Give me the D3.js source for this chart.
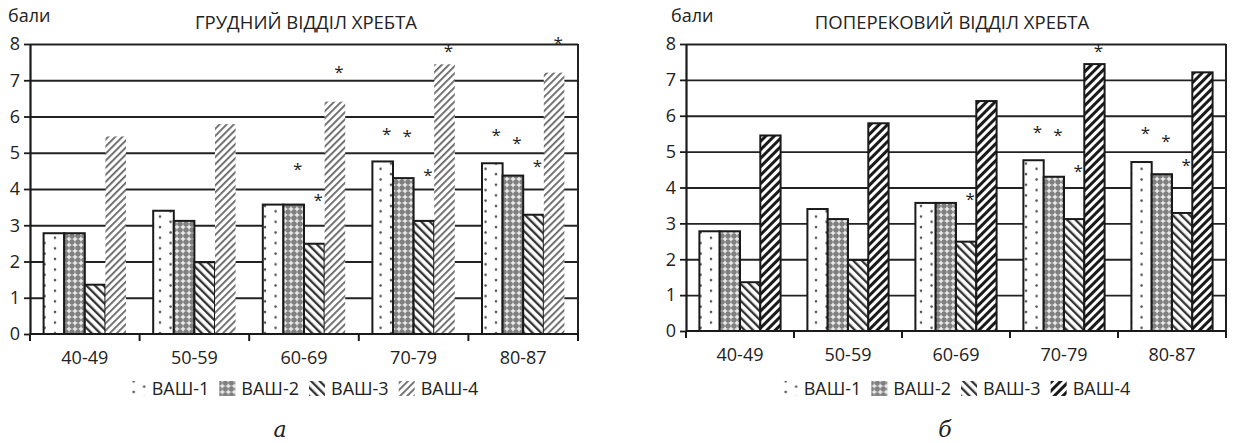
<!DOCTYPE html>
<html>
<head>
<meta charset="utf-8">
<script src="https://cdn.jsdelivr.net/npm/d3@7"></script>
<style>
  body { margin: 0; background: #fff; }
  svg text { font-family: "Open Sans", sans-serif; fill: #222; }
</style>
</head>
<body>
<div id="chart"></div>
<script>
// categories and series
var categories = ["40-49", "50-59", "60-69", "70-79", "80-87"];
var seriesNames = ["ВАШ-1", "ВАШ-2", "ВАШ-3", "ВАШ-4"];
var yTicks = [0, 1, 2, 3, 4, 5, 6, 7, 8];

// mean scores (same in both panels)
var vash1 = [2.78, 3.40, 3.57, 4.76, 4.71];
var vash2 = [2.78, 3.12, 3.57, 4.30, 4.37];
var vash3 = [1.36, 1.98, 2.49, 3.12, 3.29];
var vash4 = [5.45, 5.79, 6.41, 7.44, 7.21];

// height (in "бали") where the significance asterisks sit, null = none
var thoracicStars1 = [null, null, null, 5.60, 5.57];
var thoracicStars2 = [null, null, 4.63, 5.54, 5.35];
var thoracicStars3 = [null, null, 3.78, 4.47, 4.72];
var thoracicStars4 = [null, null, 7.31, 7.89, 8.11];

var lumbarStars1 = [null, null, null, 5.64, 5.59];
var lumbarStars2 = [null, null, null, 5.56, 5.39];
var lumbarStars3 = [null, null, 3.77, 4.53, 4.72];
var lumbarStars4 = [null, null, null, 7.90, null];

var W = 1234, H = 443;

var svg = d3.select("#chart").append("svg")
    .attr("width", W)
    .attr("height", H);

var defs = svg.append("defs");

// dotted pattern (ВАШ-1)
var p1 = defs.append("pattern").attr("id", "pDots")
    .attr("patternUnits", "userSpaceOnUse").attr("width", 21).attr("height", 10.6);
p1.append("rect").attr("width", 21).attr("height", 10.6).attr("fill", "#fff");
p1.append("circle").attr("cx", 4).attr("cy", 3).attr("r", 1.3).attr("fill", "#555");
p1.append("circle").attr("cx", 14.6).attr("cy", 8.3).attr("r", 1.3).attr("fill", "#555");

// small checker/cross pattern (ВАШ-2)
var p2 = defs.append("pattern").attr("id", "pCross")
    .attr("patternUnits", "userSpaceOnUse").attr("width", 6).attr("height", 6);
p2.append("rect").attr("width", 6).attr("height", 6).attr("fill", "#808080");
p2.append("rect").attr("x", 2.3).attr("y", 0.7).attr("width", 1.4).attr("height", 4.6).attr("fill", "#f4f4f4");
p2.append("rect").attr("x", 0.7).attr("y", 2.3).attr("width", 4.6).attr("height", 1.4).attr("fill", "#f4f4f4");

// wide downward diagonal (ВАШ-3)
var p3 = defs.append("pattern").attr("id", "pDown")
    .attr("patternUnits", "userSpaceOnUse").attr("width", 6).attr("height", 6)
    .attr("patternTransform", "rotate(-45)");
p3.append("rect").attr("width", 6).attr("height", 6).attr("fill", "#fff");
p3.append("rect").attr("x", 0).attr("width", 2.3).attr("height", 6).attr("fill", "#333");

// light upward diagonal (ВАШ-4, thoracic)
var p4 = defs.append("pattern").attr("id", "pUpLight")
    .attr("patternUnits", "userSpaceOnUse").attr("width", 5).attr("height", 5)
    .attr("patternTransform", "rotate(45)");
p4.append("rect").attr("width", 5).attr("height", 5).attr("fill", "#fff");
p4.append("rect").attr("x", 0).attr("width", 1.8).attr("height", 5).attr("fill", "#666");

// bold upward diagonal (ВАШ-4, lumbar)
var p5 = defs.append("pattern").attr("id", "pUpBold")
    .attr("patternUnits", "userSpaceOnUse").attr("width", 6).attr("height", 6)
    .attr("patternTransform", "rotate(45)");
p5.append("rect").attr("width", 6).attr("height", 6).attr("fill", "#fff");
p5.append("rect").attr("x", 0).attr("width", 3).attr("height", 6).attr("fill", "#1a1a1a");

function drawPanel(opts) {
    var g = svg.append("g")
        .attr("transform", "translate(" + opts.left + "," + opts.top + ")");

    var width = opts.width, height = opts.height;

    var x = d3.scaleBand()
        .domain(categories)
        .range([0, width]);

    var xSub = d3.scaleBand()
        .domain(seriesNames)
        .range([0, x.bandwidth()])
        .paddingInner(0)
        .paddingOuter(0.66);

    var y = d3.scaleLinear()
        .domain([0, 8])
        .range([height, 0]);

    // gridlines
    g.append("g")
        .attr("class", "grid")
        .call(d3.axisLeft(y).tickValues(yTicks.slice(1)).tickSize(-width).tickFormat(""))
        .call(function(s) {
            s.select(".domain").remove();
            s.selectAll("line").attr("stroke", "#222").attr("stroke-width", 1.8);
        });

    // right frame
    g.append("line")
        .attr("x1", width).attr("x2", width)
        .attr("y1", y(8)).attr("y2", y(0))
        .attr("stroke", "#222").attr("stroke-width", 2);

    var values = [vash1, vash2, vash3, vash4];
    var fills = ["url(#pDots)", "url(#pCross)", "url(#pDown)", opts.fill4];

    seriesNames.forEach(function(name, si) {
        var bars = g.selectAll(".bar-" + si)
            .data(values[si]);

        bars.enter().append("rect")
            .attr("class", "bar-" + si)
            .attr("x", function(d, i) { return x(categories[i]) + xSub(name); })
            .attr("y", function(d) { return y(d); })
            .attr("width", xSub.bandwidth())
            .attr("height", function(d) { return y(0) - y(d); })
            .attr("fill", fills[si])
            .attr("stroke", (si == 3 && !opts.border4) ? "none" : "#1a1a1a")
            .attr("stroke-width", 2);
    });

    // asterisks
    opts.stars.forEach(function(arr, si) {
        g.selectAll(".star-" + si)
            .data(arr.map(function(v, i) { return { v: v, i: i }; }).filter(function(d) { return d.v != null; }))
            .enter().append("text")
            .attr("class", "star-" + si)
            .attr("x", function(d) { return x(categories[d.i]) + xSub(seriesNames[si]) + xSub.bandwidth() / 2 + 4; })
            .attr("y", function(d) { return y(d.v) + 9; })
            .attr("text-anchor", "middle")
            .attr("font-size", 17)
            .attr("fill", "#333")
            .text("*");
    });

    // y axis
    g.append("g")
        .attr("class", "y-axis")
        .call(d3.axisLeft(y).tickValues(yTicks).tickSize(6).tickPadding(4).tickSizeOuter(0))
        .call(function(s) {
            s.select(".domain").attr("stroke", "#1a1a1a").attr("stroke-width", 2.2);
            s.selectAll(".tick line").attr("stroke", "#1a1a1a").attr("stroke-width", 1.8);
            s.selectAll(".tick text").attr("font-size", 18).attr("fill", "#222")
                .attr("font-family", "Open Sans, sans-serif");
        });

    // x axis
    var xa = g.append("g")
        .attr("class", "x-axis")
        .attr("transform", "translate(0," + height + ")");

    xa.append("line")
        .attr("x1", 0).attr("x2", width)
        .attr("stroke", "#1a1a1a").attr("stroke-width", 2.2);

    var bounds = categories.map(function(c) { return x(c); }).concat([width]);
    xa.selectAll(".btick")
        .data(bounds)
        .enter().append("line")
        .attr("class", "btick")
        .attr("x1", function(d) { return d; })
        .attr("x2", function(d) { return d; })
        .attr("y1", 0).attr("y2", 7)
        .attr("stroke", "#1a1a1a").attr("stroke-width", 2);

    xa.selectAll(".clabel")
        .data(categories)
        .enter().append("text")
        .attr("class", "clabel")
        .attr("x", function(d) { return x(d) + x.bandwidth() / 2; })
        .attr("y", 30)
        .attr("text-anchor", "middle")
        .attr("font-size", 18)
        .text(function(d) { return d; });

    // unit label and title
    svg.append("text")
        .attr("x", opts.left + opts.unitDx)
        .attr("y", 22)
        .attr("font-size", 18)
        .text("бали");

    svg.append("text")
        .attr("x", opts.left + opts.titleCx)
        .attr("y", 29)
        .attr("text-anchor", "middle")
        .attr("font-size", 18.5)
        .text(opts.title);

    // legend
    var legend = svg.append("g")
        .attr("transform", "translate(0," + opts.legendY + ")");

    var items = legend.selectAll(".item")
        .data(seriesNames)
        .enter().append("g")
        .attr("class", "item");

    items.append("rect")
        .attr("width", 16).attr("height", 15)
        .attr("y", -8)
        .attr("fill", function(d, i) { return fills[i]; });

    items.append("text")
        .attr("x", 22)
        .attr("y", 6)
        .attr("font-size", 18)
        .text(function(d) { return d; });

    var gap = 10;
    var cursor = 0;
    var offsets = [];
    items.each(function() {
        offsets.push(cursor);
        cursor += this.getBBox().width + gap;
    });
    cursor -= gap;
    var startX = opts.left + width / 2 - cursor / 2;
    items.attr("transform", function(d, i) { return "translate(" + (startX + offsets[i]) + ",0)"; });

    // panel letter
    svg.append("text")
        .attr("x", opts.letterX)
        .attr("y", 437)
        .attr("text-anchor", "middle")
        .attr("font-style", "italic")
        .attr("font-size", 22)
        .style("font-family", "'DejaVu Serif', serif")
        .text(opts.letter);
}

drawPanel({
    left: 30, top: 44, width: 548, height: 290,
    title: "ГРУДНИЙ ВІДДІЛ ХРЕБТА",
    titleCx: 276, unitDx: -22,
    fill4: "url(#pUpLight)", border4: false,
    stars: [thoracicStars1, thoracicStars2, thoracicStars3, thoracicStars4],
    legendY: 389, letter: "а", letterX: 280
});

drawPanel({
    left: 686, top: 44, width: 540, height: 287,
    title: "ПОПЕРЕКОВИЙ ВІДДІЛ ХРЕБТА",
    titleCx: 266, unitDx: -15,
    fill4: "url(#pUpBold)", border4: true,
    stars: [lumbarStars1, lumbarStars2, lumbarStars3, lumbarStars4],
    legendY: 389, letter: "б", letterX: 945
});
</script>
</body>
</html>
